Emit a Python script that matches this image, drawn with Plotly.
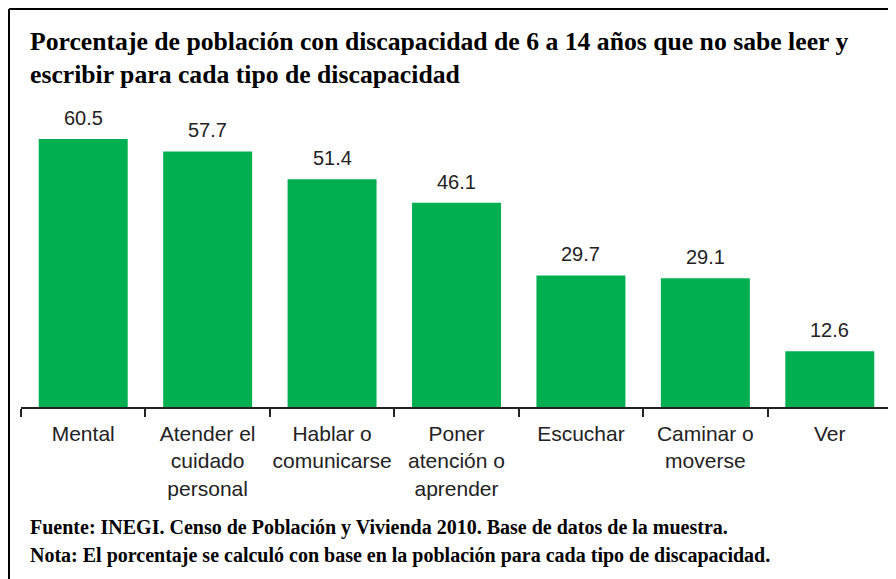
import plotly.graph_objects as go

categories = ["Mental", "Atender el<br>cuidado<br>personal", "Hablar o<br>comunicarse",
              "Poner<br>atención o<br>aprender", "Escuchar", "Caminar o<br>moverse", "Ver"]
values = [60.5, 57.7, 51.4, 46.1, 29.7, 29.1, 12.6]
value_labels = ["60.5", "57.7", "51.4", "46.1", "29.7", "29.1", "12.6"]

title_lines = ["Porcentaje de población con discapacidad de 6 a 14 años que no sabe leer y",
               "escribir para cada tipo de discapacidad"]
notes = ["Fuente: INEGI. Censo de Población y Vivienda 2010. Base de datos de la muestra.",
         "Nota: El porcentaje se calculó con base en la población para cada tipo de discapacidad."]

OFF = 8  # page body margin
W, H = 896 - OFF, 579 - OFF
L, R, T, B = 21 - OFF, 4, 97 - OFF, 579 - 407
PW, PH = W - L - R, H - T - B


def px(x):
    # page x -> paper x
    return (x - OFF - L) / PW


def py(y):
    # page y -> paper y
    return (H - B - (y - OFF)) / PH


fig = go.Figure()
fig.add_trace(go.Bar(x=categories, y=values, marker=dict(color="#00B050", line=dict(width=0)),
                     hoverinfo="skip"))

annotations = []
for c, v, t in zip(categories, values, value_labels):
    annotations.append(dict(x=c, y=v, text=t, showarrow=False, yanchor="bottom",
                            yshift=8, font=dict(family="Liberation Sans, Arial", size=20, color="#222222")))

serif = "Liberation Serif, Times New Roman, serif"
for i, line in enumerate(title_lines):
    annotations.append(dict(xref="paper", yref="paper", x=px(28), y=py(42 + 32 * i), text="<b>%s</b>" % line,
                            showarrow=False, xanchor="left", yanchor="middle",
                            font=dict(family=serif, size=25.7, color="#000000")))
for i, line in enumerate(notes):
    annotations.append(dict(xref="paper", yref="paper", x=px(28), y=py(527 + 28 * i), text="<b>%s</b>" % line,
                            showarrow=False, xanchor="left", yanchor="middle",
                            font=dict(family=serif, size=20, color="#000000")))

shapes = [
    dict(type="line", xref="paper", yref="paper", x0=px(OFF + 1), x1=px(OFF + W + 5), y0=py(OFF + 1), y1=py(OFF + 1),
         line=dict(color="#000000", width=2)),
    dict(type="line", xref="paper", yref="paper", x0=px(OFF + 1), x1=px(OFF + 1), y0=py(OFF + 1), y1=py(OFF + H + 5),
         line=dict(color="#000000", width=2)),
]

fig.update_layout(
    width=W, height=H,
    margin=dict(l=L, r=R, t=T, b=B, pad=0, autoexpand=False),
    paper_bgcolor="white", plot_bgcolor="white",
    bargap=0.285,
    showlegend=False,
    annotations=annotations,
    shapes=shapes,
    xaxis=dict(type="category", showline=True, linecolor="#222222", linewidth=1.5,
               ticks="outside", tickson="boundaries", ticklen=8, tickcolor="#222222", tickwidth=1.5,
               tickangle=0, automargin=False, ticklabelstandoff=7,
               tickfont=dict(family="Liberation Sans, Arial", size=21, color="#222222"),
               showgrid=False, fixedrange=True),
    yaxis=dict(visible=False, range=[0, 70], fixedrange=True),
)

fig.write_html("out.html")
